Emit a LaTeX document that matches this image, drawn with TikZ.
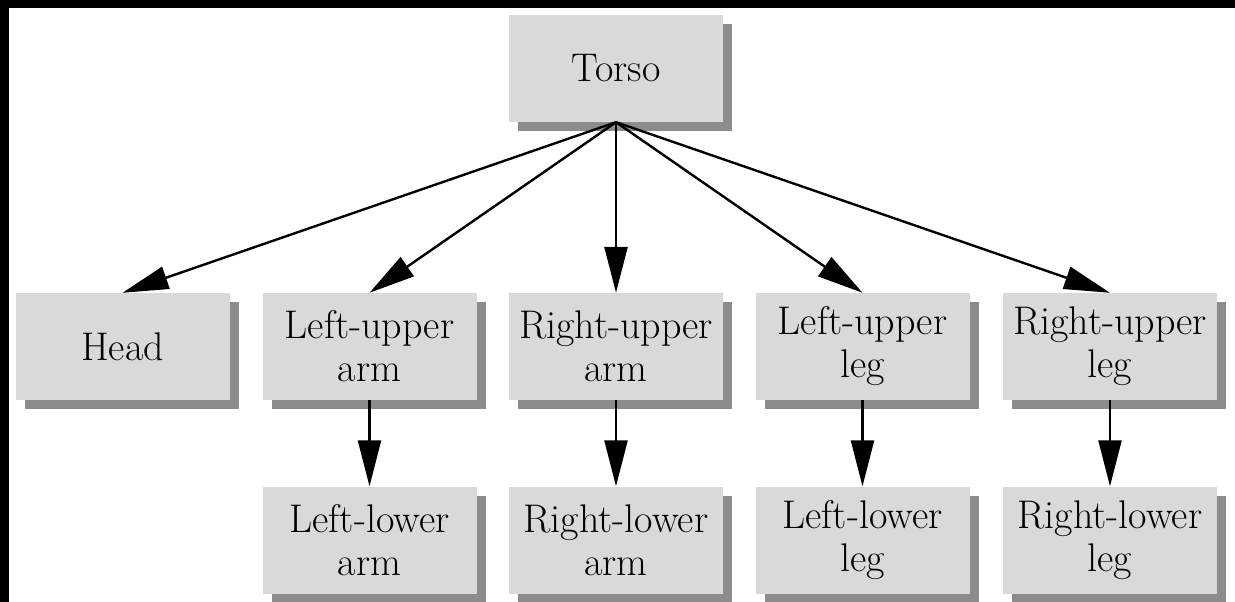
\documentclass[tikz,border=0pt]{standalone}
\usetikzlibrary{arrows.meta,shadows}
\definecolor{boxgray}{HTML}{D9D9D9}
\definecolor{shadgray}{HTML}{8C8C8C}
\tikzset{
  partbox/.style={fill=boxgray, minimum width=214pt, minimum height=107pt, inner sep=1pt, align=center,
    font=\fontsize{40}{43}\selectfont,
    drop shadow={shadow xshift=9pt, shadow yshift=-9pt, fill=shadgray, opacity=1}},
  link/.style={line width=2.4pt, -{Triangle[length=46pt,width=23pt]}}
}
\begin{document}
\begin{tikzpicture}[x=1pt,y=-1pt]
\useasboundingbox (0,0) rectangle (1235,602);
\fill[white] (0,0) rectangle (1235,602);
\fill[black] (0,0) rectangle (1235,8);
\fill[black] (0,0) rectangle (9,602);
\node[partbox] (torso) at (616,68.5) {Torso};
\node[partbox] (head) at (122.5,346.5) {Head};
\node[partbox] (lua) at (369.5,346.5) {Left-upper\\arm};
\node[partbox] (rua) at (616,346.5) {Right-upper\\arm};
\node[partbox] (lul) at (862.5,346.5) {Left-upper\\leg};
\node[partbox] (rul) at (1110,346.5) {Right-upper\\leg};
\node[partbox] (lla) at (369.5,540) {Left-lower\\arm};
\node[partbox] (rla) at (616,540) {Right-lower\\arm};
\node[partbox] (lll) at (862.5,540) {Left-lower\\leg};
\node[partbox] (rll) at (1110,540) {Right-lower\\leg};
\foreach \t in {head,lua,rua,lul,rul}
  \draw[link] (torso.south) -- (\t.north);
\draw[link] (lua.south) -- (lla.north);
\draw[link] (rua.south) -- (rla.north);
\draw[link] (lul.south) -- (lll.north);
\draw[link] (rul.south) -- (rll.north);
\end{tikzpicture}
\end{document}
